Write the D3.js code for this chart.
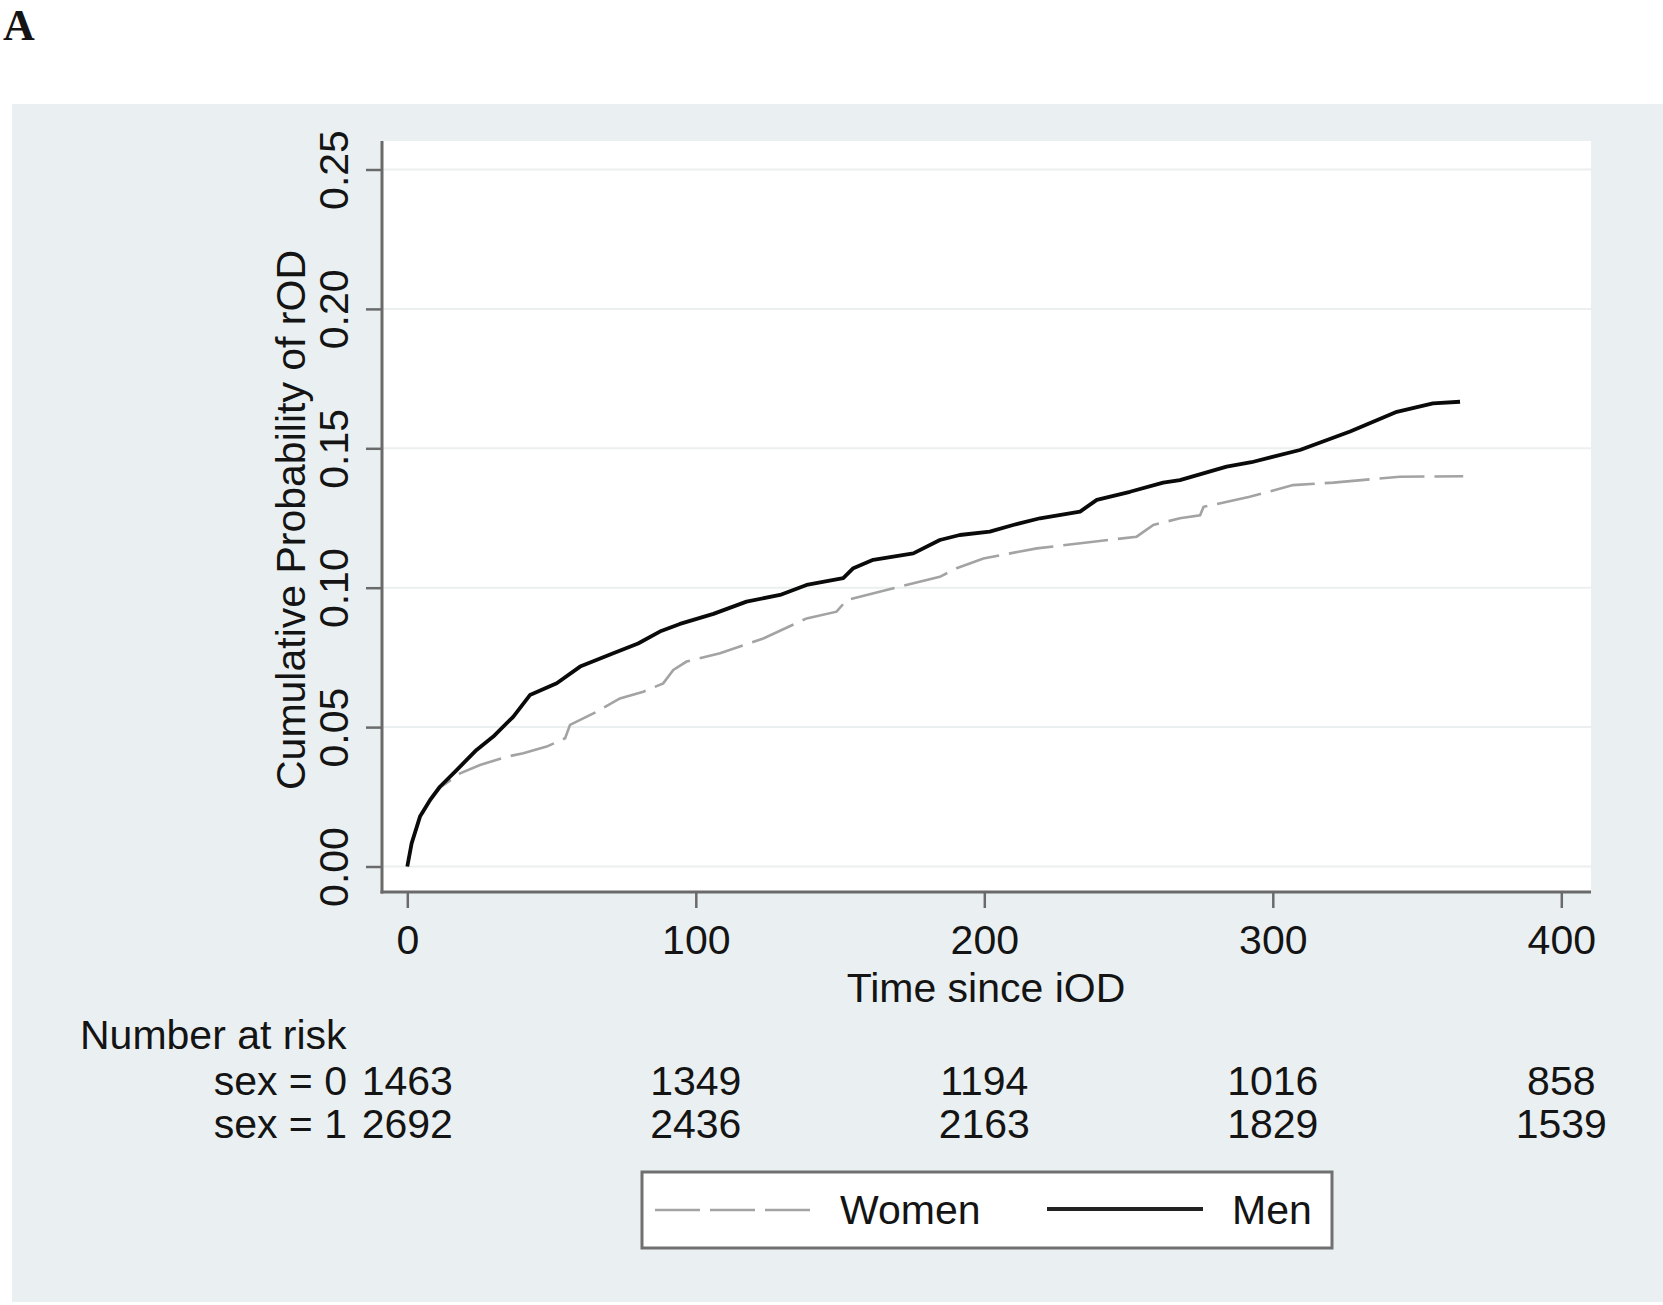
<!DOCTYPE html>
<html>
<head>
<meta charset="utf-8">
<script src="https://cdn.jsdelivr.net/npm/d3@7"></script>
<style>
  html, body { margin: 0; padding: 0; background: #ffffff; }
  svg { display: block; }
  text { font-family: "Liberation Sans", Arial, sans-serif; fill: #141414; }
</style>
</head>
<body>
<svg id="chart" width="1663" height="1305"></svg>
<script>
// ---- data ----
const menTime = [0, 1.5, 4.4, 7.9, 11.3, 17.1, 24, 29.8, 36.7, 42.5, 51.8, 59.9, 71.4, 80, 88, 94.5, 106.1, 117.6, 129.2, 138.4, 151.1, 154.6, 161.5, 175.4, 184.6, 191.5, 201.9, 210, 219.3, 233.2, 239, 250.5, 262, 267.8, 284, 292.6, 309.4, 326.8, 343, 355.5, 364.9];
const menProb = [0, 0.0083, 0.0179, 0.0239, 0.0286, 0.0346, 0.0418, 0.0466, 0.0537, 0.0615, 0.0657, 0.0717, 0.0765, 0.080, 0.0845, 0.087, 0.0906, 0.095, 0.0974, 0.101, 0.1034, 0.107, 0.110, 0.1123, 0.1171, 0.1189, 0.1201, 0.1225, 0.1249, 0.1273, 0.1315, 0.1344, 0.1377, 0.1386, 0.1434, 0.145, 0.1494, 0.156, 0.1631, 0.1661, 0.1667];
const womenTime = [0, 1.5, 4.4, 8, 11.3, 15, 18.3, 25.2, 34.5, 40.2, 48.3, 54.7, 56.4, 65.6, 73.7, 81.8, 88.7, 92.2, 96.8, 108.4, 123.4, 138.4, 148.8, 152.3, 168.5, 184.6, 190.4, 199.7, 218.2, 237.8, 252.8, 258.6, 267.8, 274.8, 276, 292, 307, 321, 344, 366];
const womenProb = [0, 0.0083, 0.0175, 0.0235, 0.0283, 0.031, 0.0334, 0.0364, 0.0394, 0.0406, 0.043, 0.046, 0.0508, 0.0555, 0.0603, 0.0627, 0.0657, 0.0705, 0.0735, 0.0765, 0.0818, 0.089, 0.0914, 0.0956, 0.0998, 0.1039, 0.107, 0.1105, 0.1141, 0.1165, 0.1183, 0.1225, 0.1249, 0.126, 0.129, 0.1326, 0.1368, 0.1377, 0.1398, 0.140];
const xTicks = [0, 100, 200, 300, 400];
const yTicks = [0, 0.05, 0.10, 0.15, 0.20, 0.25];
const riskTimes = [0, 100, 200, 300, 400];
const riskWomen = [1463, 1349, 1194, 1016, 858];
const riskMen = [2692, 2436, 2163, 1829, 1539];
const riskLabels = ["sex = 0", "sex = 1"];
const legendLabels = ["Women", "Men"];
const panelLabel = "A";
const xTitle = "Time since iOD";
const yTitle = "Cumulative Probability of rOD";
const riskTitle = "Number at risk";

// ---- layout ----
const FS = 41;
const plot = { left: 382, top: 141, right: 1591, bottom: 892 };
const x = d3.scaleLinear().domain([0, 400]).range([407.3, 1561.3]);
const y = d3.scaleLinear().domain([0, 0.25]).range([866.5, 169.5]);

const svg = d3.select("#chart");

// panel label
svg.append("text").attr("x", 3).attr("y", 40)
  .style("font-family", "'Liberation Serif', 'Times New Roman', serif")
  .style("font-weight", "bold").style("font-size", "44px").text(panelLabel);

// graph region background
svg.append("rect").attr("x", 12).attr("y", 104).attr("width", 1651).attr("height", 1198)
  .attr("fill", "#eaf0f2");

// plot region
svg.append("rect").attr("x", plot.left).attr("y", plot.top)
  .attr("width", plot.right - plot.left).attr("height", plot.bottom - plot.top)
  .attr("fill", "#ffffff");

// gridlines
svg.append("g").selectAll("line").data(yTicks).join("line")
  .attr("x1", plot.left).attr("x2", plot.right)
  .attr("y1", d => y(d)).attr("y2", d => y(d))
  .attr("stroke", "#eceff0").attr("stroke-width", 2);

// y axis
const yAxis = svg.append("g").attr("transform", `translate(${plot.left},0)`)
  .call(d3.axisLeft(y).tickValues(yTicks).tickFormat(d3.format(".2f")).tickSize(16).tickSizeOuter(0));
yAxis.select(".domain").remove();
yAxis.selectAll(".tick line").attr("stroke", "#6a6a6a").attr("stroke-width", 2.5);
yAxis.selectAll(".tick text")
  .attr("x", 0).attr("y", -34).attr("dy", null)
  .attr("transform", "rotate(-90)")
  .attr("text-anchor", "middle")
  .style("font-size", FS + "px").attr("fill", "#141414");

// x axis
const xAxis = svg.append("g").attr("transform", `translate(0,${plot.bottom})`)
  .call(d3.axisBottom(x).tickValues(xTicks).tickFormat(d3.format("d")).tickSize(16).tickSizeOuter(0));
xAxis.select(".domain").remove();
xAxis.selectAll(".tick line").attr("stroke", "#6a6a6a").attr("stroke-width", 2.5);
xAxis.selectAll(".tick text")
  .attr("y", 62).attr("dy", null)
  .style("font-size", FS + "px").attr("fill", "#141414");

// axis lines
svg.append("line").attr("x1", plot.left).attr("x2", plot.left)
  .attr("y1", plot.top).attr("y2", plot.bottom + 1.5)
  .attr("stroke", "#6a6a6a").attr("stroke-width", 3);
svg.append("line").attr("x1", plot.left - 1.5).attr("x2", plot.right)
  .attr("y1", plot.bottom).attr("y2", plot.bottom)
  .attr("stroke", "#6a6a6a").attr("stroke-width", 3);

// axis titles
svg.append("text").attr("transform", `translate(305,520) rotate(-90)`)
  .attr("text-anchor", "middle").style("font-size", FS + "px").text(yTitle);
svg.append("text").attr("x", 986).attr("y", 1002)
  .attr("text-anchor", "middle").style("font-size", FS + "px").text(xTitle);

// curves
const line = d3.line().x(d => x(d[0])).y(d => y(d[1])).curve(d3.curveLinear);
const womenData = womenTime.map((t, i) => [t, womenProb[i]]);
const menData = menTime.map((t, i) => [t, menProb[i]]);
svg.append("path").datum(womenData).attr("d", line)
  .attr("fill", "none").attr("stroke", "#a3a3a3").attr("stroke-width", 2.6)
  .attr("stroke-dasharray", "45,10");
svg.append("path").datum(menData).attr("d", line)
  .attr("fill", "none").attr("stroke", "#0a0a0a").attr("stroke-width", 3.8)
  .attr("stroke-linejoin", "round");

// risk table
svg.append("text").attr("x", 80).attr("y", 1049).style("font-size", FS + "px").text(riskTitle);
const rows = [riskWomen, riskMen];
const rowY = [1095, 1138];
rows.forEach((vals, r) => {
  svg.append("text").attr("x", 347).attr("y", rowY[r]).attr("text-anchor", "end")
    .style("font-size", FS + "px").text(riskLabels[r]);
  svg.append("g").selectAll("text").data(vals).join("text")
    .attr("x", (d, i) => x(riskTimes[i])).attr("y", rowY[r])
    .attr("text-anchor", "middle").style("font-size", FS + "px").text(d => d);
});

// legend
svg.append("rect").attr("x", 642).attr("y", 1172).attr("width", 690).attr("height", 76)
  .attr("fill", "#ffffff").attr("stroke", "#707070").attr("stroke-width", 3);
svg.append("line").attr("x1", 655).attr("x2", 815).attr("y1", 1210).attr("y2", 1210)
  .attr("stroke", "#a3a3a3").attr("stroke-width", 2.6).attr("stroke-dasharray", "45,10");
svg.append("text").attr("x", 840).attr("y", 1224).style("font-size", FS + "px").text(legendLabels[0]);
svg.append("line").attr("x1", 1047).attr("x2", 1203).attr("y1", 1209).attr("y2", 1209)
  .attr("stroke", "#222222").attr("stroke-width", 3.8);
svg.append("text").attr("x", 1232).attr("y", 1224).style("font-size", FS + "px").text(legendLabels[1]);
</script>
</body>
</html>
